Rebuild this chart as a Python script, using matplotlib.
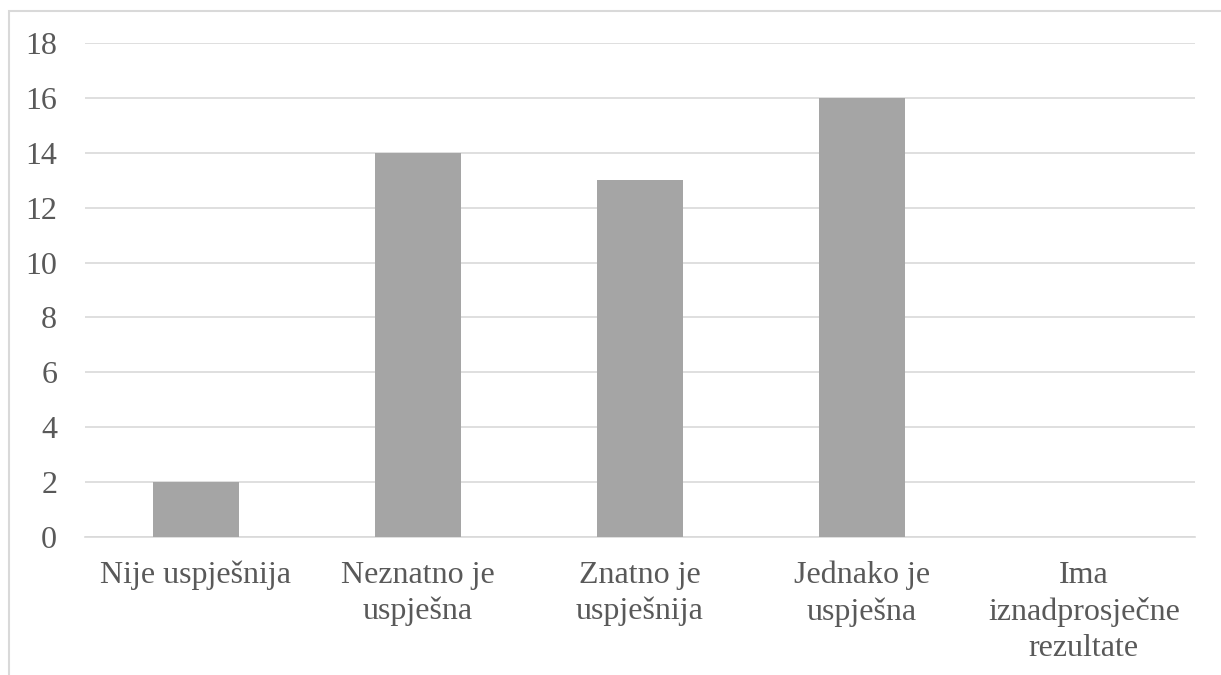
import matplotlib.pyplot as plt
from matplotlib.patches import Rectangle

categories = ['Nije uspješnija', 'Neznatno je\nuspješna', 'Znatno je\nuspješnija',
              'Jednako je\nuspješna', 'Ima\niznadprosječne\nrezultate']
values = [2, 14, 13, 16, 0]

plt.rcParams['font.family'] = ['Liberation Serif', 'DejaVu Serif']

fig = plt.figure(figsize=(12.21, 6.75), dpi=100)
ax = fig.add_axes([0.0696, 0.2044, 0.909, 0.732])

# outer chart frame (only top/left visible in the original crop)
fig.patches.append(Rectangle((9 / 1221, -0.1), 1.2, 1 - 11 / 675 + 0.1,
                             transform=fig.transFigure, fill=False,
                             edgecolor='#D9D9D9', linewidth=1.5))

x = range(len(categories))
ax.bar(x, values, width=0.39, color='#A5A5A5', zorder=3)

ax.set_xlim(-0.5, len(categories) - 0.5)
ax.set_ylim(0, 18)
ax.set_yticks(range(0, 19, 2))
ax.yaxis.grid(True, color='#D9D9D9', linewidth=1.2)
ax.set_axisbelow(True)
for s in ['top', 'right', 'left']:
    ax.spines[s].set_visible(False)
ax.spines['bottom'].set_color('#D9D9D9')
ax.spines['bottom'].set_linewidth(1.2)

ax.set_xticks(list(x))
ax.set_xticklabels(categories, linespacing=1.32)
ax.tick_params(axis='both', length=0, labelsize=23, labelcolor='#595959')
ax.tick_params(axis='x', pad=17)
ax.tick_params(axis='y', pad=20)

fig.savefig('out.png', dpi=100)
